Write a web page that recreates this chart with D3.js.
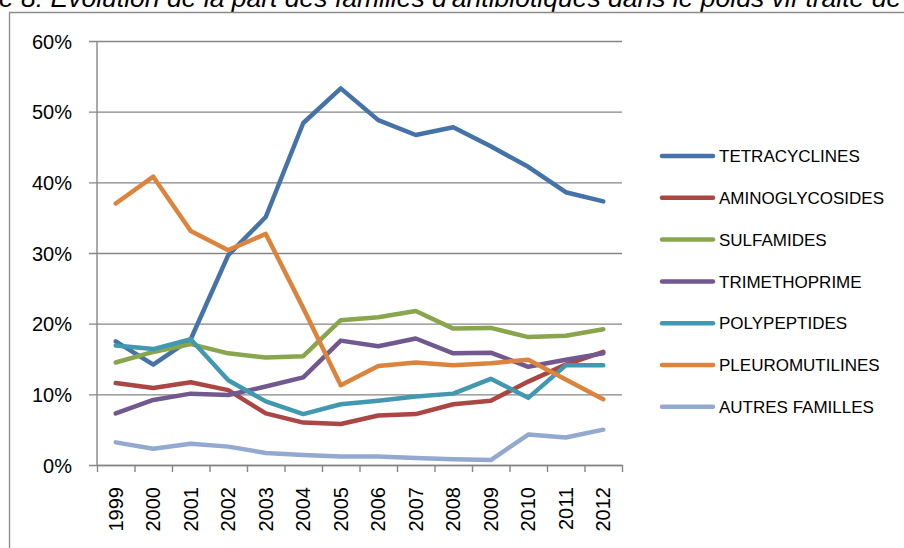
<!DOCTYPE html>
<html><head><meta charset="utf-8">
<script src="https://cdn.jsdelivr.net/npm/d3@7"></script>
<style>body{margin:0;background:#fff;overflow:hidden}</style>
</head><body><svg id="c" width="904" height="548"></svg>
<script>
const years = ["1999","2000","2001","2002","2003","2004","2005","2006","2007","2008","2009","2010","2011","2012"];
const tetracyclines   = [17.5,14.2,17.8,29.7,35.1,48.4,53.3,48.8,46.7,47.8,45.1,42.2,38.6,37.3];
const aminoglycosides = [11.6,10.9,11.7,10.6,7.3,6.0,5.8,7.0,7.2,8.6,9.1,11.8,14.2,16.0];
const sulfamides      = [14.5,16.0,17.1,15.8,15.2,15.4,20.5,20.9,21.8,19.3,19.4,18.1,18.3,19.2];
const trimethoprime   = [7.3,9.2,10.1,9.9,11.1,12.4,17.6,16.8,17.9,15.8,15.9,13.9,14.9,15.8];
const polypeptides    = [16.9,16.4,17.8,12.0,9.0,7.2,8.6,9.1,9.7,10.1,12.2,9.5,14.1,14.1];
const pleuromutilines = [37.0,40.8,33.1,30.4,32.7,22.2,11.3,14.0,14.5,14.1,14.4,14.9,12.1,9.3];
const autresFamilles  = [3.2,2.3,3.0,2.6,1.7,1.4,1.2,1.2,1.0,0.8,0.7,4.3,3.9,5.0];
const seriesNames = ["TETRACYCLINES","AMINOGLYCOSIDES","SULFAMIDES","TRIMETHOPRIME","POLYPEPTIDES","PLEUROMUTILINES","AUTRES FAMILLES"];
const seriesValues = [tetracyclines,aminoglycosides,sulfamides,trimethoprime,polypeptides,pleuromutilines,autresFamilles];
const seriesColors = ["#4572A7","#AA4643","#89A54E","#71588F","#4198AF","#DB843D","#93A9CF"];
const yTicks = [0,10,20,30,40,50,60];
const titleText = "e 8: Evolution de la part des familles d'antibiotiques dans le poids vif traité de";

const svg = d3.select("#c");
const L = 97, R = 622, T = 41, B = 465;
const x = d3.scaleBand().domain(years).range([L, R]);
const xEdge = d3.scaleLinear().domain([0, years.length]).range([L, R]);
const y = d3.scaleLinear().domain([0, 60]).range([B, T]);
const grid = "#868686";
const font = "'Liberation Sans', Arial, sans-serif";

// title (cut at the top edge as in the reference)
svg.append("text").attr("x", -1).attr("y", 7)
  .attr("font-family", font).attr("font-style", "italic").attr("font-size", 26.5)
  .attr("fill", "#000").text(titleText);

// outer border
svg.append("path").attr("d", "M9.5,548 L9.5,12.5 L904,12.5")
  .attr("fill", "none").attr("stroke", "#8a8a8a").attr("stroke-width", 1.3);

// y gridlines + labels
const ya = svg.append("g").attr("transform", `translate(${R},0)`)
  .call(d3.axisLeft(y).tickValues(yTicks).tickFormat(d => d + "%")
    .tickSize(R - 89).tickPadding(17));
ya.select(".domain").remove();
ya.selectAll(".tick line").attr("stroke", grid).attr("stroke-width", 1.4);
ya.selectAll(".tick text").attr("font-family", font).attr("font-size", 20).attr("fill", "#000").attr("dy", "0.35em");

// y axis line
svg.append("line").attr("x1", L).attr("x2", L).attr("y1", T).attr("y2", B)
  .attr("stroke", grid).attr("stroke-width", 1.4);

// x axis ticks at band edges
const xa = svg.append("g").attr("transform", `translate(0,${B})`)
  .call(d3.axisBottom(xEdge).tickValues(d3.range(years.length + 1)).tickFormat("").tickSize(7).tickSizeOuter(0));
xa.select(".domain").attr("stroke", grid).attr("stroke-width", 1.4);
xa.selectAll(".tick line").attr("stroke", grid).attr("stroke-width", 1.4);

// x labels
const xl = svg.append("g").attr("transform", `translate(0,${B})`)
  .call(d3.axisBottom(x).tickSize(0).tickPadding(0));
xl.select(".domain").remove();
xl.selectAll(".tick text")
  .attr("font-family", font).attr("font-size", 20).attr("fill", "#000")
  .attr("transform", "rotate(-90)")
  .attr("text-anchor", "end").attr("x", -22).attr("y", 0).attr("dy", "0.35em");

// lines
const line = d3.line().x((d, i) => x(years[i]) + x.bandwidth() / 2).y(d => y(d));
seriesValues.forEach((vals, k) => {
  svg.append("path").datum(vals).attr("d", line)
    .attr("fill", "none").attr("stroke", seriesColors[k]).attr("stroke-width", 4.5)
    .attr("stroke-linejoin", "round").attr("stroke-linecap", "round");
});

// legend
const lg = svg.append("g");
seriesNames.forEach((n, k) => {
  const yy = 156 + k * 41.8;
  lg.append("line").attr("x1", 662).attr("x2", 713).attr("y1", yy).attr("y2", yy)
    .attr("stroke", seriesColors[k]).attr("stroke-width", 4.5).attr("stroke-linecap", "round");
  lg.append("text").attr("x", 719).attr("y", yy).attr("dy", "0.36em")
    .attr("font-family", font).attr("font-size", 17).attr("fill", "#000").text(n);
});
</script></body></html>
